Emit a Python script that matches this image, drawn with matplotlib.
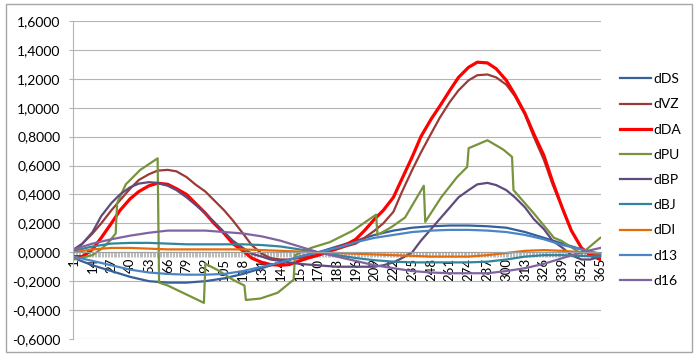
import matplotlib
matplotlib.use("Agg")
import matplotlib.pyplot as plt
from matplotlib.patches import Rectangle
from matplotlib.ticker import FixedLocator, FuncFormatter
import numpy as np

# day grid for the small, slow series (same as the axis labels)
days = [1, 14, 27, 40, 53, 66, 79, 92, 105, 118, 131, 144, 157, 170, 183,
        196, 209, 222, 235, 248, 261, 274, 287, 300, 313, 326, 339, 352, 365]

# finer day grid for the big humps
fine_days = [1, 7, 14, 20, 27, 33, 40, 46, 53, 59, 66, 72, 79, 85, 92, 98, 105,
             111, 118, 124, 131, 137, 144, 150, 157, 163, 170, 176, 183, 189,
             196, 202, 209, 215, 222, 228, 235, 241, 248, 254, 261, 267, 274,
             280, 287, 293, 300, 306, 313, 319, 326, 332, 339, 345, 352, 358, 365]

dDS = [-0.04, -0.09, -0.13, -0.17, -0.20, -0.21, -0.21, -0.20, -0.18, -0.15,
       -0.11, -0.07, -0.03, 0.00, 0.04, 0.08, 0.12, 0.15, 0.17, 0.18,
       0.185, 0.185, 0.18, 0.17, 0.14, 0.10, 0.06, 0.02, -0.02]
dVZ = [0.00, 0.06, 0.13, 0.20, 0.29, 0.36, 0.44, 0.50, 0.54, 0.565, 0.57, 0.56,
       0.52, 0.47, 0.42, 0.36, 0.29, 0.22, 0.13, 0.05, -0.01, -0.04, -0.05,
       -0.05, -0.04, -0.03, -0.02, 0.00, 0.02, 0.04, 0.06, 0.10, 0.15, 0.20,
       0.28, 0.42, 0.57, 0.69, 0.82, 0.93, 1.04, 1.12, 1.19, 1.225, 1.23, 1.21,
       1.16, 1.08, 0.95, 0.80, 0.64, 0.47, 0.30, 0.15, 0.03, -0.01, -0.03]
dDA = [-0.03, -0.03, 0.02, 0.10, 0.20, 0.29, 0.37, 0.42, 0.46, 0.478, 0.47, 0.44,
       0.40, 0.34, 0.27, 0.20, 0.13, 0.06, 0.01, -0.04, -0.07, -0.085, -0.09,
       -0.085, -0.06, -0.04, -0.02, 0.00, 0.03, 0.05, 0.09, 0.15, 0.23, 0.29,
       0.38, 0.51, 0.66, 0.80, 0.92, 1.01, 1.12, 1.21, 1.28, 1.315, 1.31, 1.27,
       1.19, 1.09, 0.96, 0.82, 0.67, 0.49, 0.30, 0.15, 0.03, -0.02, -0.05]
dBP = [0.02, 0.06, 0.14, 0.25, 0.34, 0.40, 0.45, 0.475, 0.485, 0.48, 0.46, 0.43,
       0.38, 0.33, 0.27, 0.21, 0.14, 0.08, 0.03, -0.01, -0.03, -0.05, -0.06,
       -0.07, -0.08, -0.085, -0.09, -0.095, -0.10, -0.10, -0.10, -0.10, -0.10,
       -0.09, -0.07, -0.04, 0.00, 0.08, 0.16, 0.23, 0.31, 0.38, 0.43, 0.47,
       0.48, 0.465, 0.43, 0.38, 0.31, 0.23, 0.16, 0.08, 0.03, -0.02, -0.05,
       -0.05, -0.03]
dBJ = [0.01, 0.04, 0.06, 0.065, 0.065, 0.06, 0.055, 0.055, 0.055, 0.055,
       0.05, 0.04, 0.02, 0.00, -0.02, -0.04, -0.055, -0.065, -0.07, -0.07,
       -0.07, -0.07, -0.065, -0.05, -0.03, -0.02, -0.02, -0.025, -0.03]
dDI = [0.00, 0.02, 0.03, 0.03, 0.025, 0.02, 0.02, 0.02, 0.02, 0.02,
       0.015, 0.01, 0.005, 0.00, -0.005, -0.01, -0.015, -0.02, -0.025, -0.03,
       -0.03, -0.03, -0.02, -0.005, 0.01, 0.015, 0.01, 0.00, -0.01]
d13 = [-0.03, -0.06, -0.09, -0.12, -0.14, -0.15, -0.155, -0.155, -0.15, -0.13,
       -0.10, -0.07, -0.03, 0.00, 0.03, 0.07, 0.10, 0.12, 0.14, 0.15,
       0.155, 0.155, 0.15, 0.14, 0.12, 0.09, 0.05, 0.02, -0.01]
d16 = [0.02, 0.06, 0.09, 0.115, 0.135, 0.15, 0.15, 0.15, 0.14, 0.13,
       0.11, 0.08, 0.04, 0.00, -0.03, -0.06, -0.09, -0.11, -0.13, -0.14,
       -0.145, -0.145, -0.145, -0.13, -0.11, -0.08, -0.04, 0.00, 0.03]

# dPU has jumps, so it keeps its own days
pu_days = [1, 14, 21, 26, 30, 31, 37, 47, 59, 60, 66, 91, 92, 100, 111, 119,
           120, 130, 142, 153, 154, 165, 178, 194, 210, 211, 220, 230, 243,
           244, 255, 266, 273, 274, 287, 298, 304, 305, 319, 333, 338, 352, 365]
dPU = [-0.05, -0.02, 0.03, 0.08, 0.13, 0.34, 0.47, 0.57, 0.65, -0.21, -0.23,
       -0.35, -0.08, -0.12, -0.19, -0.23, -0.33, -0.32, -0.28, -0.19, -0.02,
       0.03, 0.07, 0.15, 0.26, 0.12, 0.17, 0.24, 0.46, 0.21, 0.38, 0.52, 0.59,
       0.72, 0.775, 0.71, 0.66, 0.43, 0.27, 0.10, 0.08, -0.01, 0.10]

names = ["dDS", "dVZ", "dDA", "dPU", "dBP", "dBJ", "dDI", "d13", "d16"]
colors = ["#35609A", "#9B3B38", "#FF0000", "#77933C", "#604A7B",
          "#31859C", "#E46C0A", "#4A85C5", "#8064A2"]

label_days = [1, 14, 27, 40, 53, 66, 79, 92, 105, 118, 131, 144, 157, 170, 183,
              196, 209, 222, 235, 248, 261, 274, 287, 300, 313, 326, 339, 352, 365]

plt.rcParams["font.family"] = ["Lato", "DejaVu Sans"]

fig = plt.figure(figsize=(7, 3.6), dpi=100)
ax = fig.add_axes([73 / 700, 21 / 360, 528 / 700, 318 / 360])

data = {"dDS": (days, dDS), "dVZ": (fine_days, dVZ), "dDA": (fine_days, dDA),
        "dPU": (pu_days, dPU), "dBP": (fine_days, dBP), "dBJ": (days, dBJ),
        "dDI": (days, dDI), "d13": (days, d13), "d16": (days, d16)}

for name, col in zip(names, colors):
    x, y = data[name]
    lw = 2.3 if name == "dDA" else 1.6
    ax.plot(x, y, color=col, lw=lw, label=name, solid_joinstyle="round")

ax.set_xlim(0.5, 365.5)
ax.set_ylim(-0.6, 1.6)
ax.set_yticks(np.arange(-0.6, 1.61, 0.2))
ax.yaxis.set_major_formatter(FuncFormatter(lambda v, p: f"{v:.4f}".replace(".", ",").replace("-0,0000", "0,0000")))
ax.grid(axis="y", color="#B4B4B4", lw=0.8)
ax.set_axisbelow(True)

for s in ["top", "right"]:
    ax.spines[s].set_visible(False)
ax.spines["left"].set_color("#B4B4B4")
ax.spines["left"].set_linewidth(0.8)
ax.spines["bottom"].set_position(("data", 0))
ax.spines["bottom"].set_color("#A0A0A0")
ax.spines["bottom"].set_linewidth(0.8)

ax.xaxis.set_major_locator(FixedLocator(label_days))
ax.set_xticklabels([str(d) for d in label_days], rotation=90, fontsize=9.5)
ax.xaxis.set_minor_locator(FixedLocator(np.arange(0.5, 366, 1)))
ax.tick_params(axis="x", which="major", length=0, pad=4, colors="#000000")
ax.tick_params(axis="x", which="minor", length=3.5, width=0.5, color="#A0A0A0")
ax.tick_params(axis="y", length=3, width=0.8, color="#B4B4B4", labelsize=10, pad=6)

ax.legend(loc="center left", bbox_to_anchor=(620 / 700, 0.5), bbox_transform=fig.transFigure,
          frameon=False, fontsize=10, handlelength=2.2, handletextpad=0.2,
          labelspacing=0.95, borderpad=0, borderaxespad=0)

fig.patches.append(Rectangle((6 / 700, 8 / 360), 686 / 700, 348 / 360, transform=fig.transFigure,
                             fill=False, edgecolor="#A6A6A6", lw=1))

fig.savefig("out.png", dpi=100)
